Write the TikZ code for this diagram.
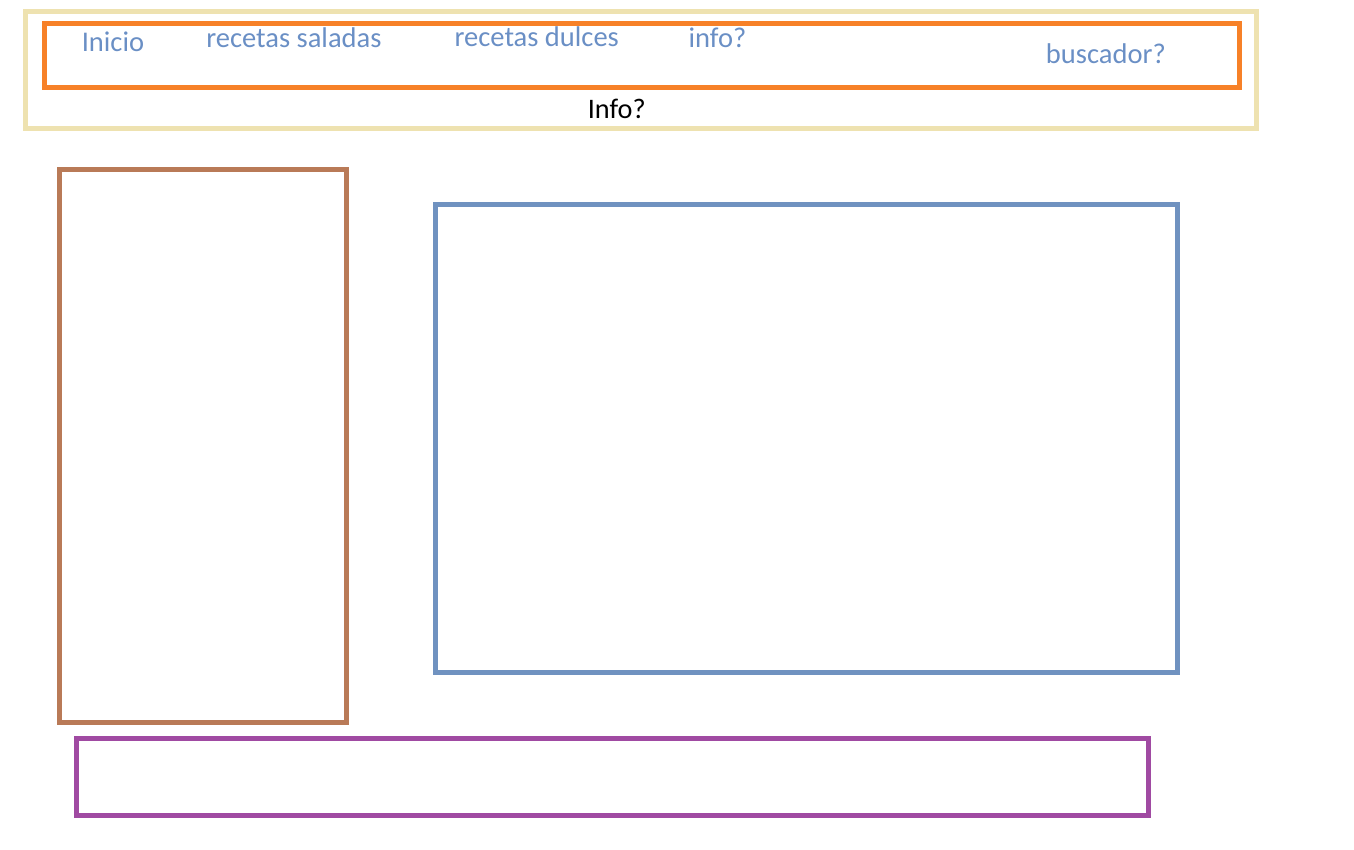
\documentclass[tikz,border=0pt]{standalone}
\usepackage{fontspec}
\setmainfont{Carlito}
\usepackage{tikz}

\definecolor{tanframe}{RGB}{238,226,176}
\definecolor{menuorange}{RGB}{247,129,40}
\definecolor{menutext}{RGB}{106,143,197}
\definecolor{mainblue}{RGB}{112,146,192}
\definecolor{sidebrown}{RGB}{185,122,87}
\definecolor{footpurple}{RGB}{160,74,162}

\begin{document}
\begin{tikzpicture}[x=0.75pt,y=0.75pt,yscale=-1,xscale=1,
  frame/.style={line width=3.75pt},
  menuitem/.style={inner sep=0pt,anchor=base west,text=menutext,font=\fontsize{21.4}{24}\selectfont}]
\useasboundingbox (0,0) rectangle (1354,850);

%Shape: Rectangle [header]
\draw [frame,color=tanframe] (25.5,11.7) rectangle (1256.3,128.4) ;
%Shape: Rectangle [menu bar]
\draw [frame,color=menuorange] (44,23.5) rectangle (1239.5,87) ;
%Shape: Rectangle [sidebar]
\draw [frame,color=sidebrown] (59.5,169.5) rectangle (346.5,722.5) ;
%Shape: Rectangle [content]
\draw [frame,color=mainblue] (435.5,204.5) rectangle (1177.5,672.5) ;
%Shape: Rectangle [footer]
\draw [frame,color=footpurple] (76.5,738.5) rectangle (1148.5,815.5) ;

% Text Node
\node [menuitem] (inicio) at (81.5,51) {Inicio};
% Text Node
\node [menuitem] (saladas) at (206,47.2) {recetas saladas};
% Text Node
\node [menuitem] (dulces) at (454.3,46.5) {recetas dulces};
% Text Node
\node [menuitem] (infomenu) at (688.3,47.3) {info?};
% Text Node
\node [menuitem] (buscador) at (1045.7,63.3) {buscador?};
% Text Node
\node [inner sep=0pt,anchor=base west,font=\fontsize{21.2}{24}\selectfont] (infohead) at (587.5,118) {Info?};

\end{tikzpicture}
\end{document}
